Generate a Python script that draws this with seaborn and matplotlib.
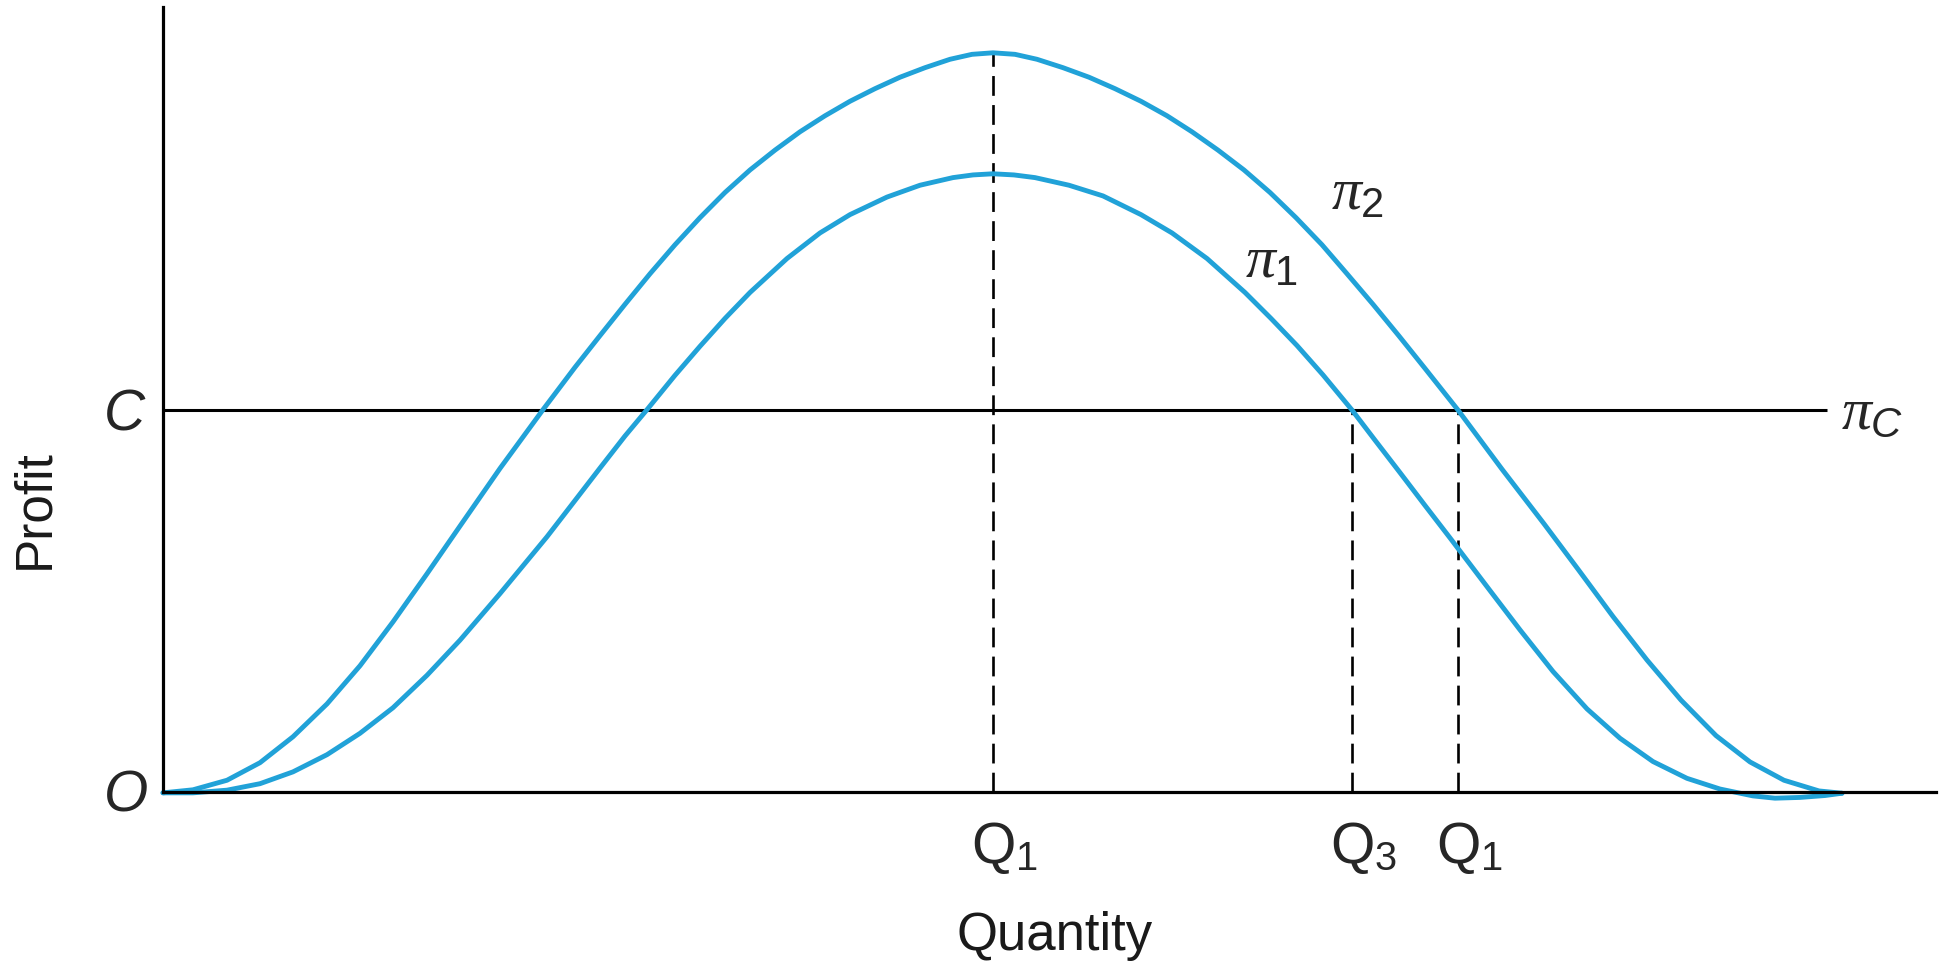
import matplotlib
matplotlib.use("Agg")
import matplotlib.pyplot as plt
import seaborn as sns

sns.set_theme(style="white")

SANS = "Liberation Sans"
FS = 40
plt.rcParams["font.family"] = [SANS, "DejaVu Sans"]
plt.rcParams["mathtext.fontset"] = "custom"
plt.rcParams["mathtext.rm"] = SANS
plt.rcParams["mathtext.it"] = "Liberation Serif:italic"
plt.rcParams["mathtext.sf"] = f"{SANS}:italic"

# ---- data -------------------------------------------------------------
# Profit curve pi_2 (higher curve)
q_pi2 = [0.00, 0.30, 0.64, 0.97, 1.30, 1.64, 1.97, 2.30, 2.64, 2.97,
         3.37, 3.80, 4.12, 4.37, 4.62, 4.87, 5.12, 5.37, 5.62, 5.87,
         6.12, 6.37, 6.62, 6.87, 7.12, 7.37, 7.62, 7.87, 8.09, 8.30,
         8.52, 8.74, 9.00, 9.26, 9.52, 9.78, 10.04, 10.29, 10.55, 10.81,
         11.07, 11.33, 11.59, 11.84, 12.10, 12.36, 12.62, 12.95, 13.39, 13.81,
         14.15, 14.50, 14.84, 15.18, 15.53, 15.87, 16.21, 16.56, 16.79]
profit_pi2 = [-0.03, 0.05, 0.30, 0.76, 1.44, 2.30, 3.30, 4.45, 5.71, 6.96,
              8.47, 10.01, 11.12, 11.95, 12.77, 13.57, 14.33, 15.04, 15.70, 16.29,
              16.81, 17.29, 17.71, 18.09, 18.42, 18.72, 18.97, 19.19, 19.32, 19.36,
              19.32, 19.19, 18.97, 18.72, 18.42, 18.09, 17.71, 17.29, 16.81, 16.29,
              15.70, 15.04, 14.33, 13.57, 12.77, 11.94, 11.09, 10.00, 8.45, 7.02,
              5.83, 4.59, 3.45, 2.40, 1.47, 0.78, 0.30, 0.02, -0.04]

# Profit curve pi_1 (lower curve)
q_pi1 = [0.00, 0.30, 0.64, 0.97, 1.30, 1.64, 1.97, 2.30, 2.64, 2.97,
         3.37, 3.84, 4.12, 4.37, 4.62, 4.84, 5.12, 5.37, 5.62, 5.87,
         6.24, 6.57, 6.87, 7.24, 7.57, 7.90, 8.10, 8.30, 8.51, 8.72,
         9.06, 9.40, 9.78, 10.09, 10.44, 10.82, 11.08, 11.34, 11.60, 11.89,
         12.12, 12.37, 12.62, 12.87, 13.07, 13.27, 13.57, 13.90, 14.24, 14.57,
         14.90, 15.24, 15.57, 15.90, 16.12, 16.37, 16.62, 16.79]
profit_pi1 = [-0.03, -0.03, 0.04, 0.21, 0.52, 0.97, 1.53, 2.20, 3.05, 3.97,
              5.19, 6.68, 7.63, 8.48, 9.32, 10.01, 10.91, 11.67, 12.40, 13.08,
              13.97, 14.64, 15.12, 15.58, 15.89, 16.09, 16.16, 16.19, 16.16, 16.09,
              15.89, 15.61, 15.12, 14.64, 13.97, 13.08, 12.40, 11.69, 10.92, 10.00,
              9.21, 8.36, 7.50, 6.65, 5.96, 5.27, 4.24, 3.15, 2.17, 1.40,
              0.79, 0.35, 0.07, -0.11, -0.17, -0.15, -0.10, -0.04]

C_LEVEL = 10.0          # competitive profit level pi_C
C_LINE_END = 16.64
Q_PEAK = 8.30           # output at the top of both curves
Q_THREE = 11.89         # pi_1 meets pi_C
Q_ONE_RIGHT = 12.95     # pi_2 meets pi_C
PEAK_PI2 = 19.36

q_marks = [Q_PEAK, Q_THREE, Q_ONE_RIGHT]
q_tops = [PEAK_PI2, C_LEVEL, C_LEVEL]
q_labels = [r"$\mathrm{Q}_{\mathrm{1}}$", r"$\mathrm{Q}_{\mathrm{3}}$", r"$\mathrm{Q}_{\mathrm{1}}$"]

# ---- figure -----------------------------------------------------------
W, H = 1946, 964
fig = plt.figure(figsize=(W / 100, H / 100), dpi=100)
fig.patch.set_facecolor("white")
ax = fig.add_axes([163 / W, (H - 791.7) / H, (1936 - 163) / W, (791.7 - 7) / H])
ax.set_facecolor("white")

CURVE = "#21a2d8"
for qs, ps in ((q_pi2, profit_pi2), (q_pi1, profit_pi1)):
    sns.lineplot(x=qs, y=ps, ax=ax, color=CURVE, linewidth=3.5, sort=False,
                 estimator=None, clip_on=False, zorder=3)
for line in ax.get_lines():
    line.set_solid_joinstyle("round")
    line.set_solid_capstyle("round")

ax.hlines(C_LEVEL, 0, C_LINE_END, color="black", linewidth=2.2, zorder=2)
ax.vlines(q_marks, 0, q_tops, color="black", linewidth=1.9,
          linestyles=(0, (7.5, 3.5)), zorder=2)

ax.set_xlim(0, 17.73)
ax.set_ylim(0, 20.56)
ax.set_xticks([])
ax.set_yticks([])
sns.despine(ax=ax)
for side in ("left", "bottom"):
    ax.spines[side].set_color("black")
    ax.spines[side].set_linewidth(2.3)
    ax.spines[side].set_zorder(4)

# axis titles
ax.text(0.503, -0.2017, "Quantity", transform=ax.transAxes, fontsize=FS - 2,
        color="#1a1a1a", ha="center", va="baseline")
ax.text(-0.0722, 0.360, "Profit", transform=ax.transAxes, fontsize=FS - 3,
        color="#1a1a1a", rotation=90, rotation_mode="anchor",
        ha="center", va="center")

# level markers on the profit axis
ax.text(-0.39, 9.47, "C", fontsize=FS + 1, style="italic", ha="center", va="baseline")
ax.text(-0.37, -0.52, "O", fontsize=FS + 1, style="italic", ha="center", va="baseline")

# quantity markers under the dashed guides
for q, lab in zip(q_marks, q_labels):
    ax.text(q - 0.22, -1.87, lab, fontsize=FS + 1, ha="left", va="baseline")

# curve names
ax.text(11.68, 15.24, r"$\pi_{\mathrm{2}}$", fontsize=FS + 3, ha="left", va="baseline")
ax.text(10.82, 13.46, r"$\pi_{\mathrm{1}}$", fontsize=FS + 3, ha="left", va="baseline")
ax.text(16.78, 9.50, r"$\pi_{\mathsf{C}}$", fontsize=FS + 3, ha="left", va="baseline")

fig.savefig("out.png", dpi=100, facecolor="white")
